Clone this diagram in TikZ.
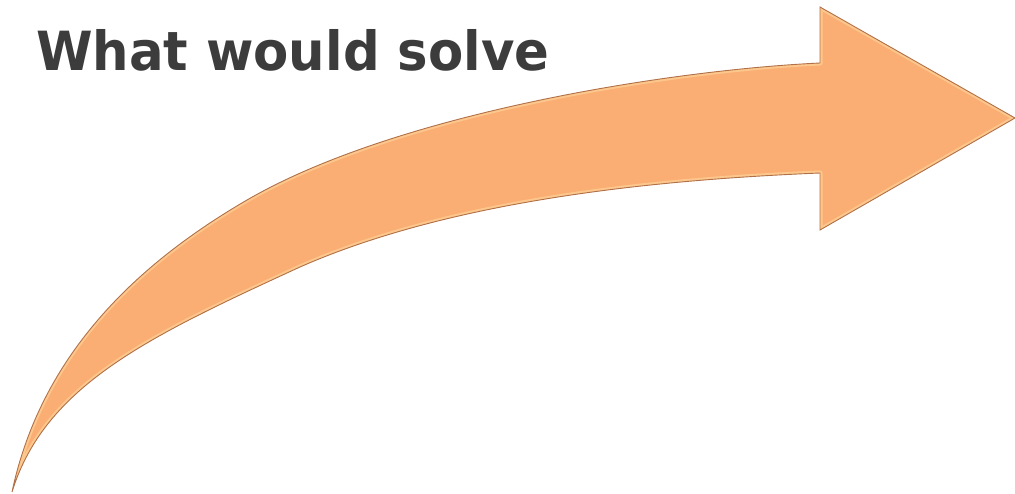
\documentclass[tikz,border=0pt]{standalone}
\usepackage{fontspec}
\setmainfont{DejaVu Sans}
\usepackage{xcolor}
\definecolor{arroworange}{RGB}{251, 174, 116}
\definecolor{arrowedge}{RGB}{178, 112, 72}
\definecolor{arrowlight}{RGB}{255, 230, 170}
\definecolor{titlegray}{RGB}{60, 60, 60}
\usetikzlibrary{positioning}

\begin{document}
\begin{tikzpicture}[x=1pt, y=-1pt]
    \useasboundingbox (0, 0) rectangle (1015, 493);

    % Curved arrow outline (tail, upper edge, head, lower edge)
    \def\arrowpath{
        (12, 492) .. controls (40, 360) and (130, 268) .. (247, 200)
        .. controls (397, 113) and (670, 70) .. (820, 63)
        -- (820, 7) -- (1015, 118) -- (820, 230) -- (820, 173)
        .. controls (650, 180) and (450, 201) .. (300, 267)
        .. controls (150, 336) and (45, 385) .. (12, 492) -- cycle}

    % Body
    \fill[arroworange] \arrowpath;

    % Bevel highlight inside the edge
    \begin{scope}
        \clip \arrowpath;
        \draw[arrowlight, line width=5pt, opacity=0.45, line join=round] \arrowpath;
    \end{scope}

    % Outline
    \draw[arrowedge, line width=0.9pt, line join=miter] \arrowpath;

    % Title
    \node[anchor=base west, inner sep=0pt, text=titlegray, xscale=0.95,
          font=\fontsize{54}{60}\selectfont\bfseries] (title) at (36, 70) {What would solve};
\end{tikzpicture}
\end{document}
